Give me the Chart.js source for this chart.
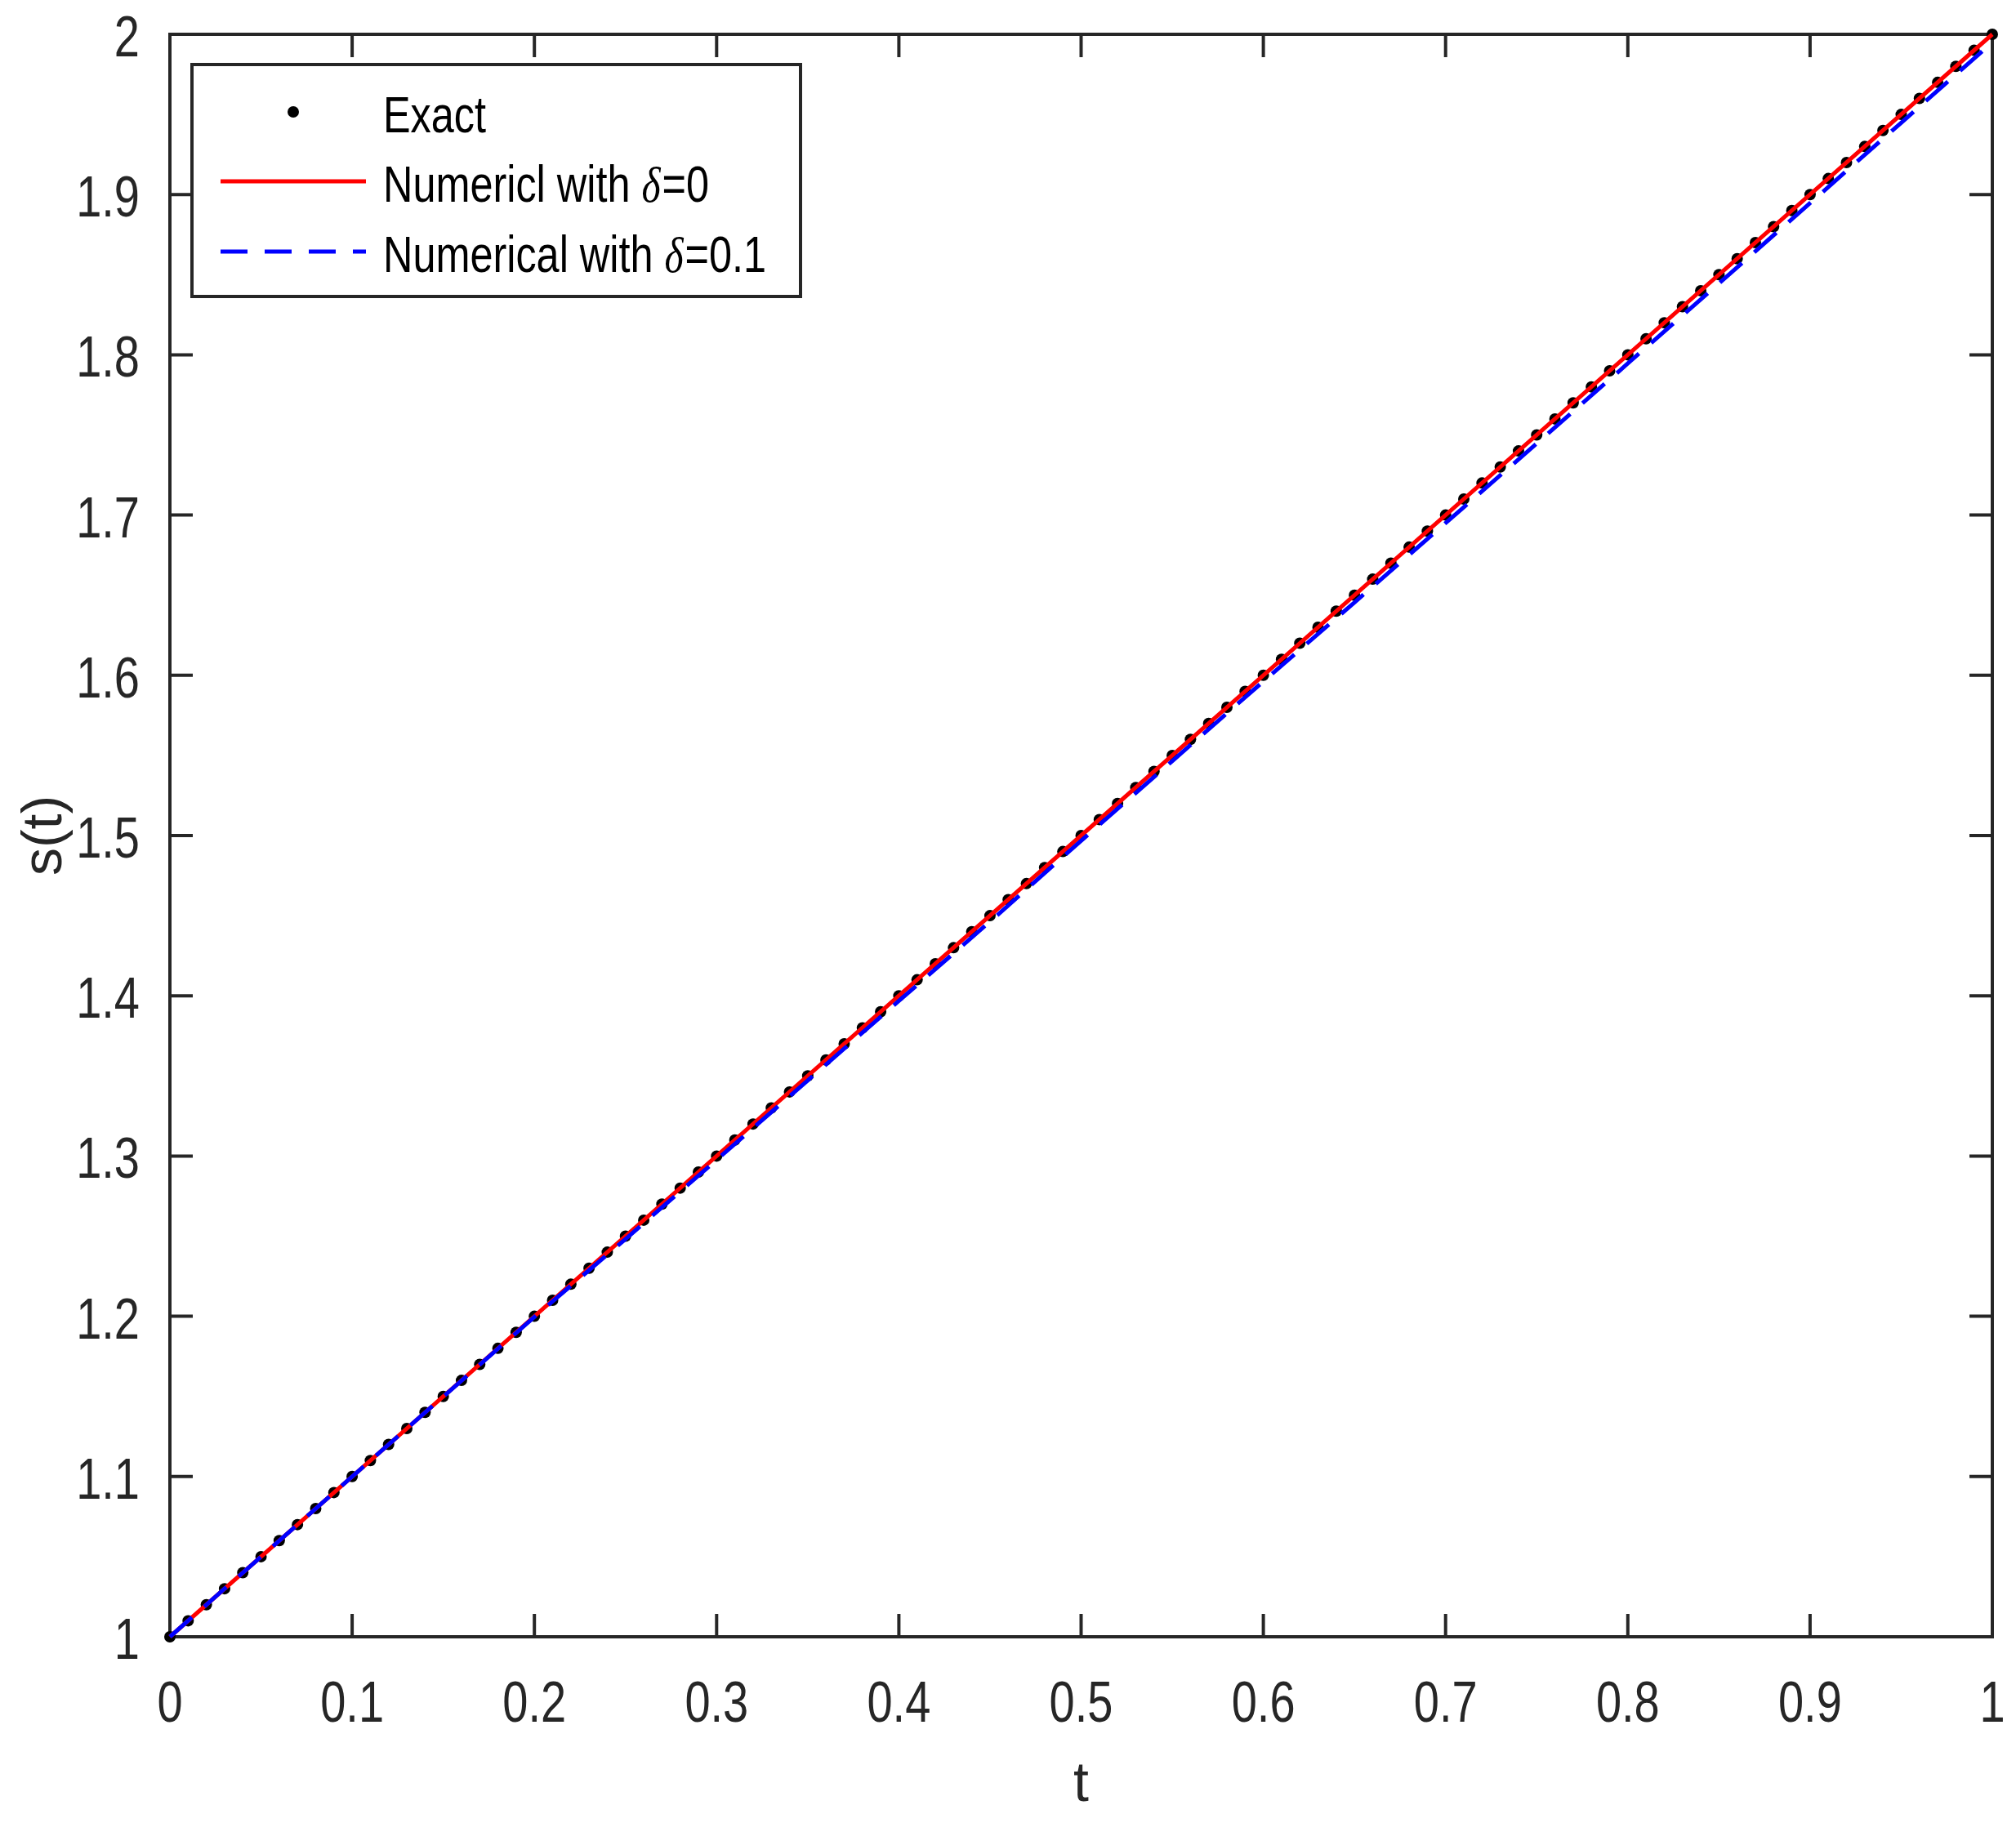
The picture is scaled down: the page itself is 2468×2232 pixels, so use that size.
<!DOCTYPE html>
<html>
<head>
<meta charset="utf-8">
<script src="https://cdn.jsdelivr.net/npm/chart.js@4/dist/chart.umd.min.js"></script>
<style>
    html, body { margin: 0; padding: 0; background: #fff; }
    #wrap { width: 2468px; height: 2232px; position: relative; }
</style>
</head>
<body>
<div id="wrap"><canvas id="sChart"></canvas></div>
<script>
// t grid of the exact solution (every 0.01)
const tExact = [0,0.01,0.02,0.03,0.04,0.05,0.06,0.07,0.08,0.09,0.1,0.11,0.12,0.13,0.14,0.15,0.16,0.17,0.18,0.19,0.2,
    0.21,0.22,0.23,0.24,0.25,0.26,0.27,0.28,0.29,0.3,0.31,0.32,0.33,0.34,0.35,0.36,0.37,0.38,0.39,0.4,
    0.41,0.42,0.43,0.44,0.45,0.46,0.47,0.48,0.49,0.5,0.51,0.52,0.53,0.54,0.55,0.56,0.57,0.58,0.59,0.6,
    0.61,0.62,0.63,0.64,0.65,0.66,0.67,0.68,0.69,0.7,0.71,0.72,0.73,0.74,0.75,0.76,0.77,0.78,0.79,0.8,
    0.81,0.82,0.83,0.84,0.85,0.86,0.87,0.88,0.89,0.9,0.91,0.92,0.93,0.94,0.95,0.96,0.97,0.98,0.99,1];
const sExact = [1,1.01,1.02,1.03,1.04,1.05,1.06,1.07,1.08,1.09,1.1,1.11,1.12,1.13,1.14,1.15,1.16,1.17,1.18,1.19,1.2,
    1.21,1.22,1.23,1.24,1.25,1.26,1.27,1.28,1.29,1.3,1.31,1.32,1.33,1.34,1.35,1.36,1.37,1.38,1.39,1.4,
    1.41,1.42,1.43,1.44,1.45,1.46,1.47,1.48,1.49,1.5,1.51,1.52,1.53,1.54,1.55,1.56,1.57,1.58,1.59,1.6,
    1.61,1.62,1.63,1.64,1.65,1.66,1.67,1.68,1.69,1.7,1.71,1.72,1.73,1.74,1.75,1.76,1.77,1.78,1.79,1.8,
    1.81,1.82,1.83,1.84,1.85,1.86,1.87,1.88,1.89,1.9,1.91,1.92,1.93,1.94,1.95,1.96,1.97,1.98,1.99,2];

// numerical, delta = 0
const tNum0 = [0,0.1,0.2,0.3,0.4,0.5,0.6,0.7,0.8,0.9,1];
const sNum0 = [1,1.1,1.2,1.3,1.4,1.5,1.6,1.7,1.8,1.9,2];

// numerical, delta = 0.1 (sits a touch below the exact line)
const tNum1 = [0,0.05,0.1,0.15,0.2,0.25,0.3,0.35,0.4,0.45,0.5,0.55,0.6,0.65,0.7,0.75,0.8,0.85,0.9,0.95,1];
const sNum1 = [1,1.05,1.1,1.1499,1.1996,1.2482,1.2976,1.3472,1.3968,1.4463,1.4968,1.5465,1.5962,1.6455,1.695,1.7447,1.7946,1.8446,1.8947,1.9448,1.995];

const xTicks = [0,0.1,0.2,0.3,0.4,0.5,0.6,0.7,0.8,0.9,1];
const xTickLabels = ['0','0.1','0.2','0.3','0.4','0.5','0.6','0.7','0.8','0.9','1'];
const yTicks = [1,1.1,1.2,1.3,1.4,1.5,1.6,1.7,1.8,1.9,2];
const yTickLabels = ['1','1.1','1.2','1.3','1.4','1.5','1.6','1.7','1.8','1.9','2'];

const legendLabels = ['Exact', 'Numericl with ', 'Numerical with '];
const legendSuffix = ['', '=0', '=0.1'];

const axisColor = '#262626';
const sans = "'Liberation Sans', Arial, sans-serif";
const squeeze = 0.8;   // MATLAB's Helvetica comes out narrow

function pts(xs, ys) {
    return xs.map((x, i) => ({x: x, y: ys[i]}));
}

// text drawn horizontally condensed
function narrowText(ctx, txt, x, y, align) {
    const w = ctx.measureText(txt).width * squeeze;
    let x0 = x;
    if (align === 'center') x0 = x - w / 2;
    if (align === 'right') x0 = x - w;
    ctx.save();
    ctx.translate(x0, y);
    ctx.scale(squeeze, 1);
    ctx.textAlign = 'left';
    ctx.fillText(txt, 0, 0);
    ctx.restore();
    return w;
}

// box + inward ticks + tick labels, drawn under the data like MATLAB
const framePlugin = {
    id: 'frame',
    beforeDatasetsDraw(chart) {
        const {ctx, chartArea: a, scales: {x, y}} = chart;
        const tl = 28;
        ctx.save();
        ctx.strokeStyle = axisColor;
        ctx.lineWidth = 4;
        ctx.beginPath();
        xTicks.forEach(v => {
            const px = x.getPixelForValue(v);
            ctx.moveTo(px, a.bottom); ctx.lineTo(px, a.bottom - tl);
            ctx.moveTo(px, a.top); ctx.lineTo(px, a.top + tl);
        });
        yTicks.forEach(v => {
            const py = y.getPixelForValue(v);
            ctx.moveTo(a.left, py); ctx.lineTo(a.left + tl, py);
            ctx.moveTo(a.right, py); ctx.lineTo(a.right - tl, py);
        });
        ctx.stroke();
        ctx.lineJoin = 'miter';
        ctx.strokeRect(a.left, a.top, a.right - a.left, a.bottom - a.top);

        ctx.fillStyle = axisColor;
        ctx.font = '70px ' + sans;
        ctx.textBaseline = 'alphabetic';
        xTicks.forEach((v, i) => {
            narrowText(ctx, xTickLabels[i], x.getPixelForValue(v), a.bottom + 104, 'center');
        });
        yTicks.forEach((v, i) => {
            narrowText(ctx, yTickLabels[i], a.left - 37, y.getPixelForValue(v) + 27, 'right');
        });
        ctx.restore();
    }
};

// legend box in the top-left corner
const legendPlugin = {
    id: 'boxLegend',
    afterDatasetsDraw(chart) {
        const ctx = chart.ctx;
        const box = {l: 235, t: 79, r: 980, b: 363};
        const rows = [137, 222, 308];
        ctx.save();
        ctx.fillStyle = '#fff';
        ctx.fillRect(box.l, box.t, box.r - box.l, box.b - box.t);
        ctx.strokeStyle = axisColor;
        ctx.lineWidth = 4;
        ctx.strokeRect(box.l, box.t, box.r - box.l, box.b - box.t);

        // symbols
        ctx.fillStyle = '#000';
        ctx.beginPath();
        ctx.arc(359, rows[0], 7, 0, Math.PI * 2);
        ctx.fill();

        ctx.lineWidth = 5;
        ctx.strokeStyle = '#ff0000';
        ctx.beginPath();
        ctx.moveTo(270, rows[1]); ctx.lineTo(448, rows[1]);
        ctx.stroke();

        ctx.strokeStyle = '#0000ff';
        ctx.setLineDash([33, 21]);
        ctx.beginPath();
        ctx.moveTo(270, rows[2]); ctx.lineTo(448, rows[2]);
        ctx.stroke();
        ctx.setLineDash([]);

        // labels
        ctx.fillStyle = '#000';
        ctx.textBaseline = 'alphabetic';
        legendLabels.forEach((lab, i) => {
            const yy = rows[i] + 25;
            let xx = 469;
            ctx.font = '63px ' + sans;
            xx += narrowText(ctx, lab, xx, yy, 'left');
            if (i > 0) {
                ctx.font = "italic 62px 'Liberation Serif', 'DejaVu Serif', serif";
                xx += narrowText(ctx, '\u03b4', xx, yy, 'left') + 2;
                ctx.font = '63px ' + sans;
                narrowText(ctx, legendSuffix[i], xx, yy, 'left');
            }
        });
        ctx.restore();
    }
};

new Chart(document.getElementById('sChart'), {
    type: 'scatter',
    data: {
        datasets: [
            {
                label: 'Numerical with \u03b4=0.1',
                data: pts(tNum1, sNum1),
                showLine: true,
                borderColor: '#0000ff',
                borderWidth: 5,
                borderDash: [36, 20],
                pointRadius: 0,
                tension: 0,
                clip: false,
                order: 0
            },
            {
                label: 'Numericl with \u03b4=0',
                data: pts(tNum0, sNum0),
                showLine: true,
                borderColor: '#ff0000',
                borderWidth: 5,
                pointRadius: 0,
                tension: 0,
                clip: false,
                order: 1
            },
            {
                label: 'Exact',
                data: pts(tExact, sExact),
                showLine: false,
                pointRadius: 7,
                pointBackgroundColor: '#000',
                pointBorderColor: '#000',
                pointBorderWidth: 0,
                clip: false,
                order: 2
            }
        ]
    },
    options: {
        responsive: true,
        maintainAspectRatio: false,
        devicePixelRatio: 1,
        animation: false,
        layout: {
            padding: {top: 42, right: 29, left: 0, bottom: 0}
        },
        scales: {
            x: {
                type: 'linear',
                min: 0,
                max: 1,
                grid: {display: false},
                border: {display: false},
                afterBuildTicks: s => { s.ticks = xTicks.map(v => ({value: v})); },
                afterFit: s => { s.height = 228; s.paddingLeft = 0; s.paddingRight = 0; },
                ticks: {display: false},
                title: {
                    display: true,
                    text: 't',
                    color: axisColor,
                    font: {family: sans, size: 68},
                    padding: {top: 0, bottom: 5}
                }
            },
            y: {
                type: 'linear',
                min: 1,
                max: 2,
                grid: {display: false},
                border: {display: false},
                afterBuildTicks: s => { s.ticks = yTicks.map(v => ({value: v})); },
                afterFit: s => { s.width = 208; s.paddingTop = 0; s.paddingBottom = 0; },
                ticks: {display: false},
                title: {
                    display: true,
                    text: 's(t)',
                    color: axisColor,
                    font: {family: sans, size: 68},
                    padding: {top: 15, bottom: 0}
                }
            }
        },
        plugins: {
            legend: {display: false},
            tooltip: {enabled: false}
        }
    },
    plugins: [framePlugin, legendPlugin]
});
</script>
</body>
</html>
